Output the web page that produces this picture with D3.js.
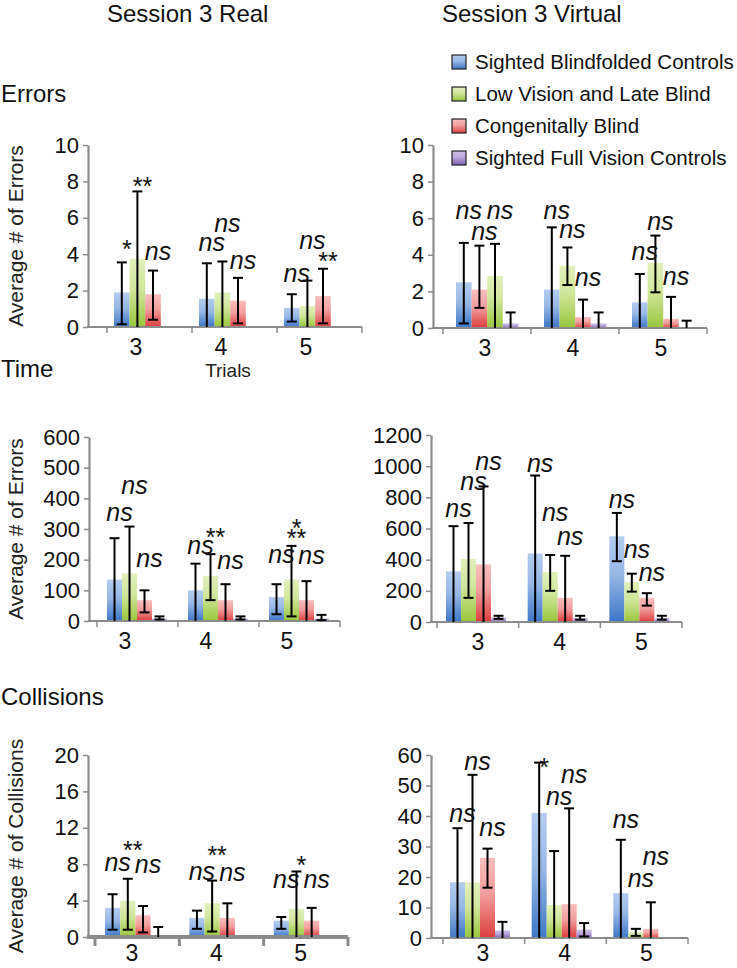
<!DOCTYPE html>
<html>
<head>
<meta charset="utf-8">
<script src="https://cdn.jsdelivr.net/npm/d3@7"></script>
<style>
body { margin: 0; background: #fff; }
svg { font-family: "Liberation Sans", Arial, sans-serif; }
</style>
</head>
<body>
<svg id="chart" width="737" height="968"></svg>
<script>
// trials on the x axis, groups in legend order
var trials = ["3", "4", "5"];
var groups = ["Sighted Blindfolded Controls", "Low Vision and Late Blind",
              "Congenitally Blind", "Sighted Full Vision Controls"];

// each row = one trial, columns = groups (blue, green, red, purple), null = nothing drawn
var realErrVal = [[1.9, 3.75, 1.8, null], [1.55, 1.9, 1.45, null], [1.05, 1.15, 1.7, null]];
var realErrLo  = [[0.15, 0, 0.4, null], [0, 0, 0.2, null], [0.3, 0, 0.2, null]];
var realErrHi  = [[3.55, 7.45, 3.1, null], [3.5, 3.6, 2.7, null], [1.8, 2.55, 3.2, null]];

var virtErrVal = [[2.5, 2.85, 2.1, 0.25], [2.1, 3.4, 0.6, 0.25], [1.4, 3.55, 0.5, 0]];
var virtErrLo  = [[0.25, 0, 1.1, 0], [0, 2.35, 0, 0], [0, 1.95, 0, 0]];
var virtErrHi  = [[4.65, 4.6, 4.5, 0.85], [5.5, 4.4, 1.55, 0.85], [2.95, 5.05, 1.7, 0.4]];
// slot of each group inside a trial (trial 3 has red before green)
var virtErrSlot = [[0, 2, 1, 3], [0, 1, 2, 3], [0, 1, 2, 3]];

var realTimeVal = [[135, 155, 68, 8], [100, 147, 68, 8], [78, 135, 68, 8]];
var realTimeLo  = [[0, 0, 28, 5], [0, 68, 0, 5], [22, 15, 0, 3]];
var realTimeHi  = [[270, 308, 100, 15], [187, 218, 120, 15], [120, 245, 130, 20]];

var virtTimeVal = [[325, 405, 370, 30], [440, 320, 155, 25], [550, 255, 155, 25]];
var virtTimeLo  = [[0, 155, 0, 20], [0, 200, 0, 15], [390, 195, 105, 15]];
var virtTimeHi  = [[615, 635, 870, 40], [940, 430, 425, 40], [700, 310, 185, 40]];

var realColVal = [[3.2, 4.0, 2.4, 0], [2.1, 3.7, 2.1, null], [1.8, 3.1, 1.8, null]];
var realColLo  = [[0.8, 0.8, 0.5, 0], [0.9, 0.6, 0, null], [0.9, 0, 0, null]];
var realColHi  = [[4.7, 6.4, 3.4, 1.1], [2.9, 6.2, 3.7, null], [2.2, 7.2, 3.2, null]];

var virtColVal = [[18.3, 18.2, 26.3, 2.5], [41, 10.8, 11.1, 2.8], [14.7, 1.9, 3.0, null]];
var virtColLo  = [[0, 0, 16.5, 0], [0, 0, 0, 0.5], [0, 0.7, 0, null]];
var virtColHi  = [[36, 53.5, 29.3, 5.3], [57.5, 28.5, 42.5, 4.9], [32.2, 3.0, 11.7, null]];

// significance marks: [trial, group, text, value at bottom of the mark]
var realErrNotes = [[0,0,"*",4.37],[0,1,"**",7.85],[0,2,"ns",3.67],[1,0,"ns",4.17],[1,1,"ns",5.23],
                    [1,2,"ns",3.2],[2,0,"ns",2.48],[2,1,"ns",4.3],[2,2,"**",3.7]];
var virtErrNotes = [[0,0,"ns",5.93],[0,2,"ns",4.8],[0,1,"ns",5.98],[1,0,"ns",5.93],[1,1,"ns",4.93],
                    [1,2,"ns",2.3],[2,0,"ns",3.7],[2,1,"ns",5.38],[2,2,"ns",2.34]];
var realTimeNotes = [[0,0,"ns",327],[0,1,"ns",413],[0,2,"ns",177],[1,0,"ns",220],[1,1,"**",280],
                     [1,2,"ns",171],[2,0,"ns",188],[2,1,"**",274],[2,1,"*",309],[2,2,"ns",185]];
var virtTimeNotes = [[0,0,"ns",673],[0,1,"ns",848],[0,2,"ns",976],[1,0,"ns",965],[1,1,"ns",649],
                     [1,2,"ns",495],[2,0,"ns",730],[2,1,"ns",410],[2,2,"ns",260]];
var realColNotes = [[0,0,"ns",7.2],[0,1,"**",9.76],[0,2,"ns",7.0],[1,0,"ns",6.3],[1,1,"**",9.2],
                    [1,2,"ns",6.1],[2,0,"ns",5.37],[2,1,"*",8.1],[2,2,"ns",5.37]];
var virtColNotes = [[0,0,"ns",37.9],[0,1,"ns",55.1],[0,2,"ns",33.3],[1,0,"*",56.7],[1,1,"ns",43.6],
                    [1,2,"ns",50.7],[2,0,"ns",36],[2,1,"ns",16.7],[2,2,"ns",23.8]];

var realErrTicks = [0, 2, 4, 6, 8, 10];
var realTimeTicks = [0, 100, 200, 300, 400, 500, 600];
var realColTicks = [0, 4, 8, 12, 16, 20];
var virtErrTicks = [0, 2, 4, 6, 8, 10];
var virtTimeTicks = [0, 200, 400, 600, 800, 1000, 1200];
var virtColTicks = [0, 10, 20, 30, 40, 50, 60];

var fills = [["#b4cdef", "#3d76c7"], ["#e2f0bb", "#98c63c"], ["#f9bebe", "#dc3d3d"], ["#cfc0e6", "#7d60b4"]];
var axisGrey = "#8c8c8c";
var font = "'Liberation Sans', Arial, sans-serif";

var svg = d3.select("#chart");
var defs = svg.append("defs");
fills.forEach(function(f, i) {
    var g = defs.append("linearGradient").attr("id", "grad" + i)
        .attr("x1", 0).attr("y1", 0).attr("x2", 0).attr("y2", 1);
    g.append("stop").attr("offset", "0%").attr("stop-color", f[0]);
    g.append("stop").attr("offset", "45%").attr("stop-color", d3.interpolateRgb(f[0], f[1])(0.25));
    g.append("stop").attr("offset", "100%").attr("stop-color", f[1]);
});

var panels = [
    {val: realErrVal, lo: realErrLo, hi: realErrHi, notes: realErrNotes, ticks: realErrTicks,
     axisX: 88, top: 145, base: 327, tick0: 107, xEnd: 362, barOff: 7, barW: 15.6, labOff: 29,
     labY: 28, ylab: "Average # of Errors", xw: 2},
    {val: realTimeVal, lo: realTimeLo, hi: realTimeHi, notes: realTimeNotes, ticks: realTimeTicks,
     axisX: 89, top: 437, base: 621, tick0: 97, xEnd: 340, barOff: 10, barW: 15, labOff: 28,
     labY: 28, ylab: "Average # of Errors", xw: 2},
    {val: realColVal, lo: realColLo, hi: realColHi, notes: realColNotes, ticks: realColTicks,
     axisX: 88, top: 755, base: 937, tick0: 95, xEnd: 348, barOff: 10, barW: 15.2, labOff: 37,
     labY: 24, ylab: "Average # of Collisions", xw: 4},
    {val: virtErrVal, lo: virtErrLo, hi: virtErrHi, notes: virtErrNotes, ticks: virtErrTicks, slot: virtErrSlot,
     axisX: 433, top: 145, base: 328, tick0: 443, xEnd: 707, barOff: 13, barW: 15.6, labOff: 42,
     labY: 28, xw: 2},
    {val: virtTimeVal, lo: virtTimeLo, hi: virtTimeHi, notes: virtTimeNotes, ticks: virtTimeTicks,
     axisX: 431, top: 435, base: 622, tick0: 437, xEnd: 682, barOff: 9, barW: 15, labOff: 41,
     labY: 28, xw: 2},
    {val: virtColVal, lo: virtColLo, hi: virtColHi, notes: virtColNotes, ticks: virtColTicks,
     axisX: 431, top: 755, base: 938, tick0: 443, xEnd: 688, barOff: 7, barW: 15, labOff: 40,
     labY: 23, xw: 2}
];

panels.forEach(function(p) {
    var g = svg.append("g");
    var yMax = p.ticks[p.ticks.length - 1];
    var y = d3.scaleLinear().domain([0, yMax]).range([p.base, p.top]);
    var x = d3.scaleBand().domain(trials).range([p.tick0, p.xEnd]);
    var s = d3.scaleBand().domain([0, 1, 2, 3]).range([p.barOff, p.barOff + 4 * p.barW]);
    var slotOf = function(t, k) { return p.slot ? p.slot[t][k] : k; };
    var cx = function(t, k) { return x(trials[t]) + s(slotOf(t, k)) + p.barW / 2; };

    // bars
    var bars = [];
    p.val.forEach(function(row, t) {
        row.forEach(function(v, k) {
            if (v !== null) bars.push({t: t, k: k, v: v, lo: p.lo[t][k], hi: p.hi[t][k]});
        });
    });
    g.selectAll("rect.bar").data(bars.filter(function(d) { return d.v > 0; }))
      .enter().append("rect")
        .attr("class", "bar")
        .attr("x", function(d) { return x(trials[d.t]) + s(slotOf(d.t, d.k)); })
        .attr("y", function(d) { return y(d.v); })
        .attr("width", p.barW)
        .attr("height", function(d) { return p.base - y(d.v); })
        .attr("fill", function(d) { return "url(#grad" + d.k + ")"; });

    // axes
    var yAxis = d3.axisLeft(y).tickValues(p.ticks).tickFormat(d3.format("d"))
        .tickSize(5).tickSizeOuter(0).tickPadding(4);
    var ya = g.append("g").attr("transform", "translate(" + p.axisX + ",0)").call(yAxis);
    ya.select(".domain").attr("stroke", axisGrey).attr("stroke-width", 2.2);
    ya.selectAll(".tick line").attr("stroke", axisGrey).attr("stroke-width", 1.5);
    ya.selectAll(".tick text").attr("font-size", 22).attr("font-family", font).attr("fill", "#111");

    g.append("line").attr("x1", p.axisX - 1).attr("x2", p.xEnd)
        .attr("y1", p.base).attr("y2", p.base)
        .attr("stroke", axisGrey).attr("stroke-width", p.xw);
    var edges = trials.map(function(t) { return x(t); }).concat([p.xEnd]);
    g.selectAll("line.xt").data(edges).enter().append("line")
        .attr("x1", function(d) { return d; }).attr("x2", function(d) { return d; })
        .attr("y1", p.base).attr("y2", p.base + (p.xw > 2 ? 9 : 6))
        .attr("stroke", axisGrey).attr("stroke-width", p.xw > 2 ? 3 : 1.5);
    g.selectAll("text.xl").data(trials).enter().append("text")
        .attr("x", function(d) { return x(d) + p.labOff; })
        .attr("y", p.base + p.labY)
        .attr("text-anchor", "middle").attr("font-size", 23).attr("fill", "#111")
        .text(function(d) { return d; });

    // error bars
    var eb = g.selectAll("g.eb").data(bars).enter().append("g")
        .attr("stroke", "#000").attr("stroke-width", 2);
    eb.append("line")
        .attr("x1", function(d) { return cx(d.t, d.k); }).attr("x2", function(d) { return cx(d.t, d.k); })
        .attr("y1", function(d) { return y(d.lo); }).attr("y2", function(d) { return y(d.hi); });
    eb.append("line")
        .attr("x1", function(d) { return cx(d.t, d.k) - 5; }).attr("x2", function(d) { return cx(d.t, d.k) + 5; })
        .attr("y1", function(d) { return y(d.hi); }).attr("y2", function(d) { return y(d.hi); });
    eb.filter(function(d) { return d.lo > 0; }).append("line")
        .attr("x1", function(d) { return cx(d.t, d.k) - 5; }).attr("x2", function(d) { return cx(d.t, d.k) + 5; })
        .attr("y1", function(d) { return y(d.lo); }).attr("y2", function(d) { return y(d.lo); });

    // significance marks
    g.selectAll("text.note").data(p.notes).enter().append("text")
        .attr("x", function(d) { return cx(d[0], d[1]) + 5; })
        .attr("y", function(d) { return y(d[3]) + (d[2] === "ns" ? 0 : 10.5); })
        .attr("text-anchor", "middle").attr("font-size", 25)
        .attr("font-style", function(d) { return d[2] === "ns" ? "italic" : "normal"; })
        .attr("fill", "#111")
        .text(function(d) { return d[2]; });

    if (p.ylab) {
        svg.append("text")
            .attr("transform", "translate(23," + (p.top + p.base) / 2 + ") rotate(-90)")
            .attr("text-anchor", "middle").attr("font-size", 21).attr("fill", "#222")
            .text(p.ylab);
    }
});

// headings
var heads = [["Session 3 Real", 107, 22, 24], ["Session 3 Virtual", 442, 22, 24],
             ["Errors", 1, 102, 24], ["Time", 1, 377, 24], ["Collisions", 1, 705, 24]];
svg.selectAll("text.head").data(heads).enter().append("text")
    .attr("x", function(d) { return d[1]; }).attr("y", function(d) { return d[2]; })
    .attr("font-size", function(d) { return d[3]; }).attr("fill", "#111")
    .text(function(d) { return d[0]; });
svg.append("text").attr("x", 228).attr("y", 377).attr("text-anchor", "middle")
    .attr("font-size", 19).attr("fill", "#222").text("Trials");

// legend
var leg = svg.append("g").attr("transform", "translate(452,62)");
var li = leg.selectAll("g").data(groups).enter().append("g")
    .attr("transform", function(d, i) { return "translate(0," + i * 32 + ")"; });
li.append("rect").attr("x", 0).attr("y", -7).attr("width", 14).attr("height", 14)
    .attr("fill", function(d, i) { return "url(#grad" + i + ")"; })
    .attr("stroke", "#222").attr("stroke-width", 1.2);
li.append("text").attr("x", 23).attr("y", 0).attr("dy", "0.36em")
    .attr("font-size", 20.5).attr("fill", "#111")
    .text(function(d) { return d; });
</script>
</body>
</html>
